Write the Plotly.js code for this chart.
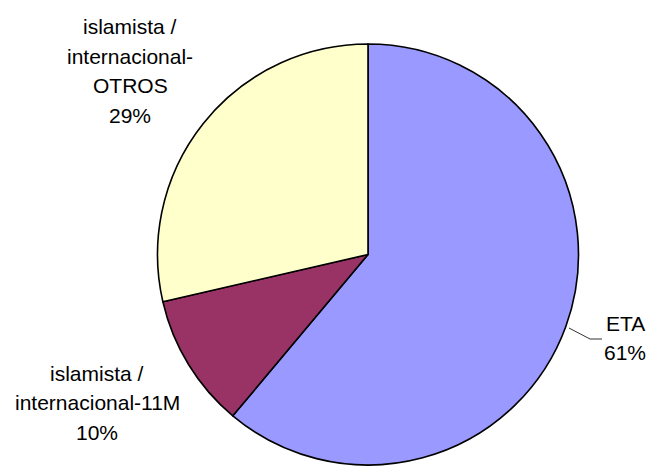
<!DOCTYPE html>
<html>
<head>
<meta charset="utf-8">
<script src="https://cdn.plot.ly/plotly-3.0.1.min.js"></script>
<style>html,body{margin:0;padding:0;background:#fff;}#chart{width:650px;height:466px;}</style>
</head>
<body>
<div id="chart"></div>
<script>
// Data
var categories = ['ETA', 'islamista /<br>internacional-11M', 'islamista /<br>internacional-<br>OTROS'];
var values = [61.1, 10.3, 28.6];
var colors = ['#9999FF', '#993366', '#FFFFCC'];

var W = 650, H = 466;
var total = values.reduce(function(a, b){ return a + b; }, 0);

// label placement (pixel centres of the first line) and line step
var labelPos = [
  {x: 625, y: 323},
  {x: 97,  y: 373},
  {x: 130, y: 27}
];
var lineStep = 29.5;

var annotations = [];
categories.forEach(function(cat, i){
  var pct = Math.round(values[i] / total * 100) + '%';
  var lines = cat.split('<br>').concat([pct]);
  lines.forEach(function(t, j){
    annotations.push({
      text: t,
      xref: 'paper', yref: 'paper',
      x: labelPos[i].x / W,
      y: 1 - (labelPos[i].y + j * lineStep) / H,
      xanchor: 'center', yanchor: 'middle',
      showarrow: false,
      font: {family: 'Liberation Sans, Arial, sans-serif', size: 21, color: '#000'}
    });
  });
});

function px(x){ return (x / W).toFixed(4); }
function py(y){ return (1 - y / H).toFixed(4); }

var cx = 368, cy = 254.5, r = 210.5;

var trace = {
  type: 'pie',
  labels: categories,
  values: values,
  sort: false,
  direction: 'clockwise',
  rotation: 0,
  textinfo: 'none',
  hoverinfo: 'label+percent',
  marker: {colors: colors, line: {color: '#000', width: 1.6}},
  domain: {x: [(cx - r) / W, (cx + r) / W], y: [1 - (cy + r) / H, 1 - (cy - r) / H]},
  showlegend: false
};

var layout = {
  width: W, height: H,
  margin: {l: 0, r: 0, t: 0, b: 0},
  paper_bgcolor: '#fff',
  showlegend: false,
  annotations: annotations,
  shapes: [{
    type: 'path', xref: 'paper', yref: 'paper',
    path: 'M ' + px(569) + ' ' + py(328) + ' L ' + px(590) + ' ' + py(339) + ' L ' + px(602) + ' ' + py(339),
    line: {color: '#333', width: 1}
  }]
};

Plotly.newPlot('chart', [trace], layout, {displayModeBar: false, staticPlot: true});
</script>
</body>
</html>
